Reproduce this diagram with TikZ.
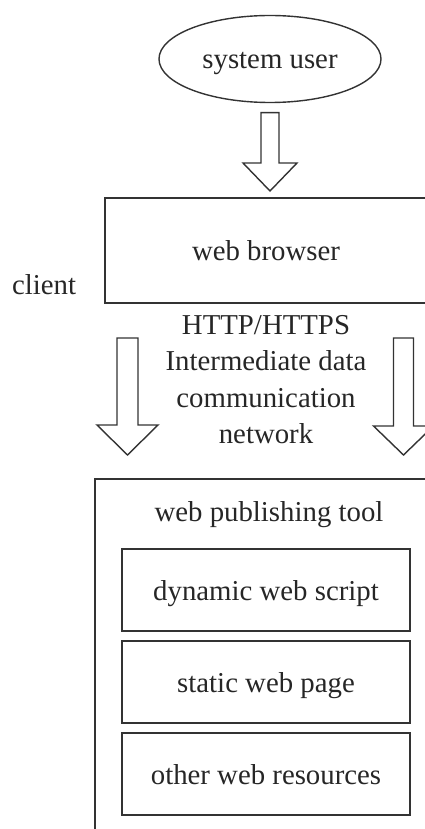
\documentclass[tikz,border=0pt]{standalone}
\usepackage{fontspec}
\setmainfont{Liberation Serif}
\usetikzlibrary{shapes.geometric,positioning,calc}

\tikzset{
  trait/.style={draw=black!80, line width=1.4pt},
  boite/.style={trait, rectangle, inner sep=0pt, outer sep=0pt, text height=20pt, text depth=0pt},
  % #1 demi-largeur du corps, #2 demi-largeur de la pointe, #3 longueur de la pointe
  fleche/.style n args={3}{trait, to path={
    let \p1=(\tikztostart), \p2=(\tikztotarget) in
    (\x1-#1pt,\y1) -- (\x1+#1pt,\y1) -- (\x1+#1pt,\y2+#3pt) -- (\x1+#2pt,\y2+#3pt)
    -- (\x1,\y2) -- (\x1-#2pt,\y2+#3pt) -- (\x1-#1pt,\y2+#3pt) -- cycle}}
}

\begin{document}
\begin{tikzpicture}[x=1pt, y=-1pt, font=\fontsize{28.8}{36.5}\selectfont, text=black!85]
  \useasboundingbox (0,0) rectangle (424,829);

  % Utilisateur
  \node[trait, ellipse, minimum width=222pt, minimum height=87pt, inner sep=0pt, text height=20pt, text depth=0pt] (user) at (270,59) {system user};

  % Navigateur (client)
  \node[boite, minimum width=322pt, minimum height=105pt] (browser) at (266,250.5) {web browser};
  \node (client) at (44,285) {client};

  % Réseau
  \node[align=center] (net) at (266,379.5) {HTTP/HTTPS\\Intermediate data\\communication\\network};

  % Outil de publication
  \node[boite, minimum width=345pt, minimum height=361pt, anchor=north west] (tool) at (95,479) {};
  \node (title) at (269,514.5) {web publishing tool};
  \node[boite, minimum width=288pt, minimum height=82pt] (script) at (266,590) {dynamic web script};
  \node[boite, minimum width=288pt, minimum height=82pt, below=10pt of script] (static) {static web page};
  \node[boite, minimum width=288pt, minimum height=82pt, below=10pt of static] (other) {other web resources};

  % Flèches
  \draw[fleche={9}{27}{28}] ([yshift=-9.5pt]user.south) to ([yshift=7pt]browser.north);
  \draw[fleche={10.5}{30.5}{30}] ([xshift=22.5pt,yshift=-35pt]browser.south west) to ([yshift=24pt]tool.north);
  \draw[fleche={10}{30}{29}] ([xshift=-23.5pt,yshift=-35pt]browser.south east) to ([yshift=24pt]tool.north);
\end{tikzpicture}
\end{document}
